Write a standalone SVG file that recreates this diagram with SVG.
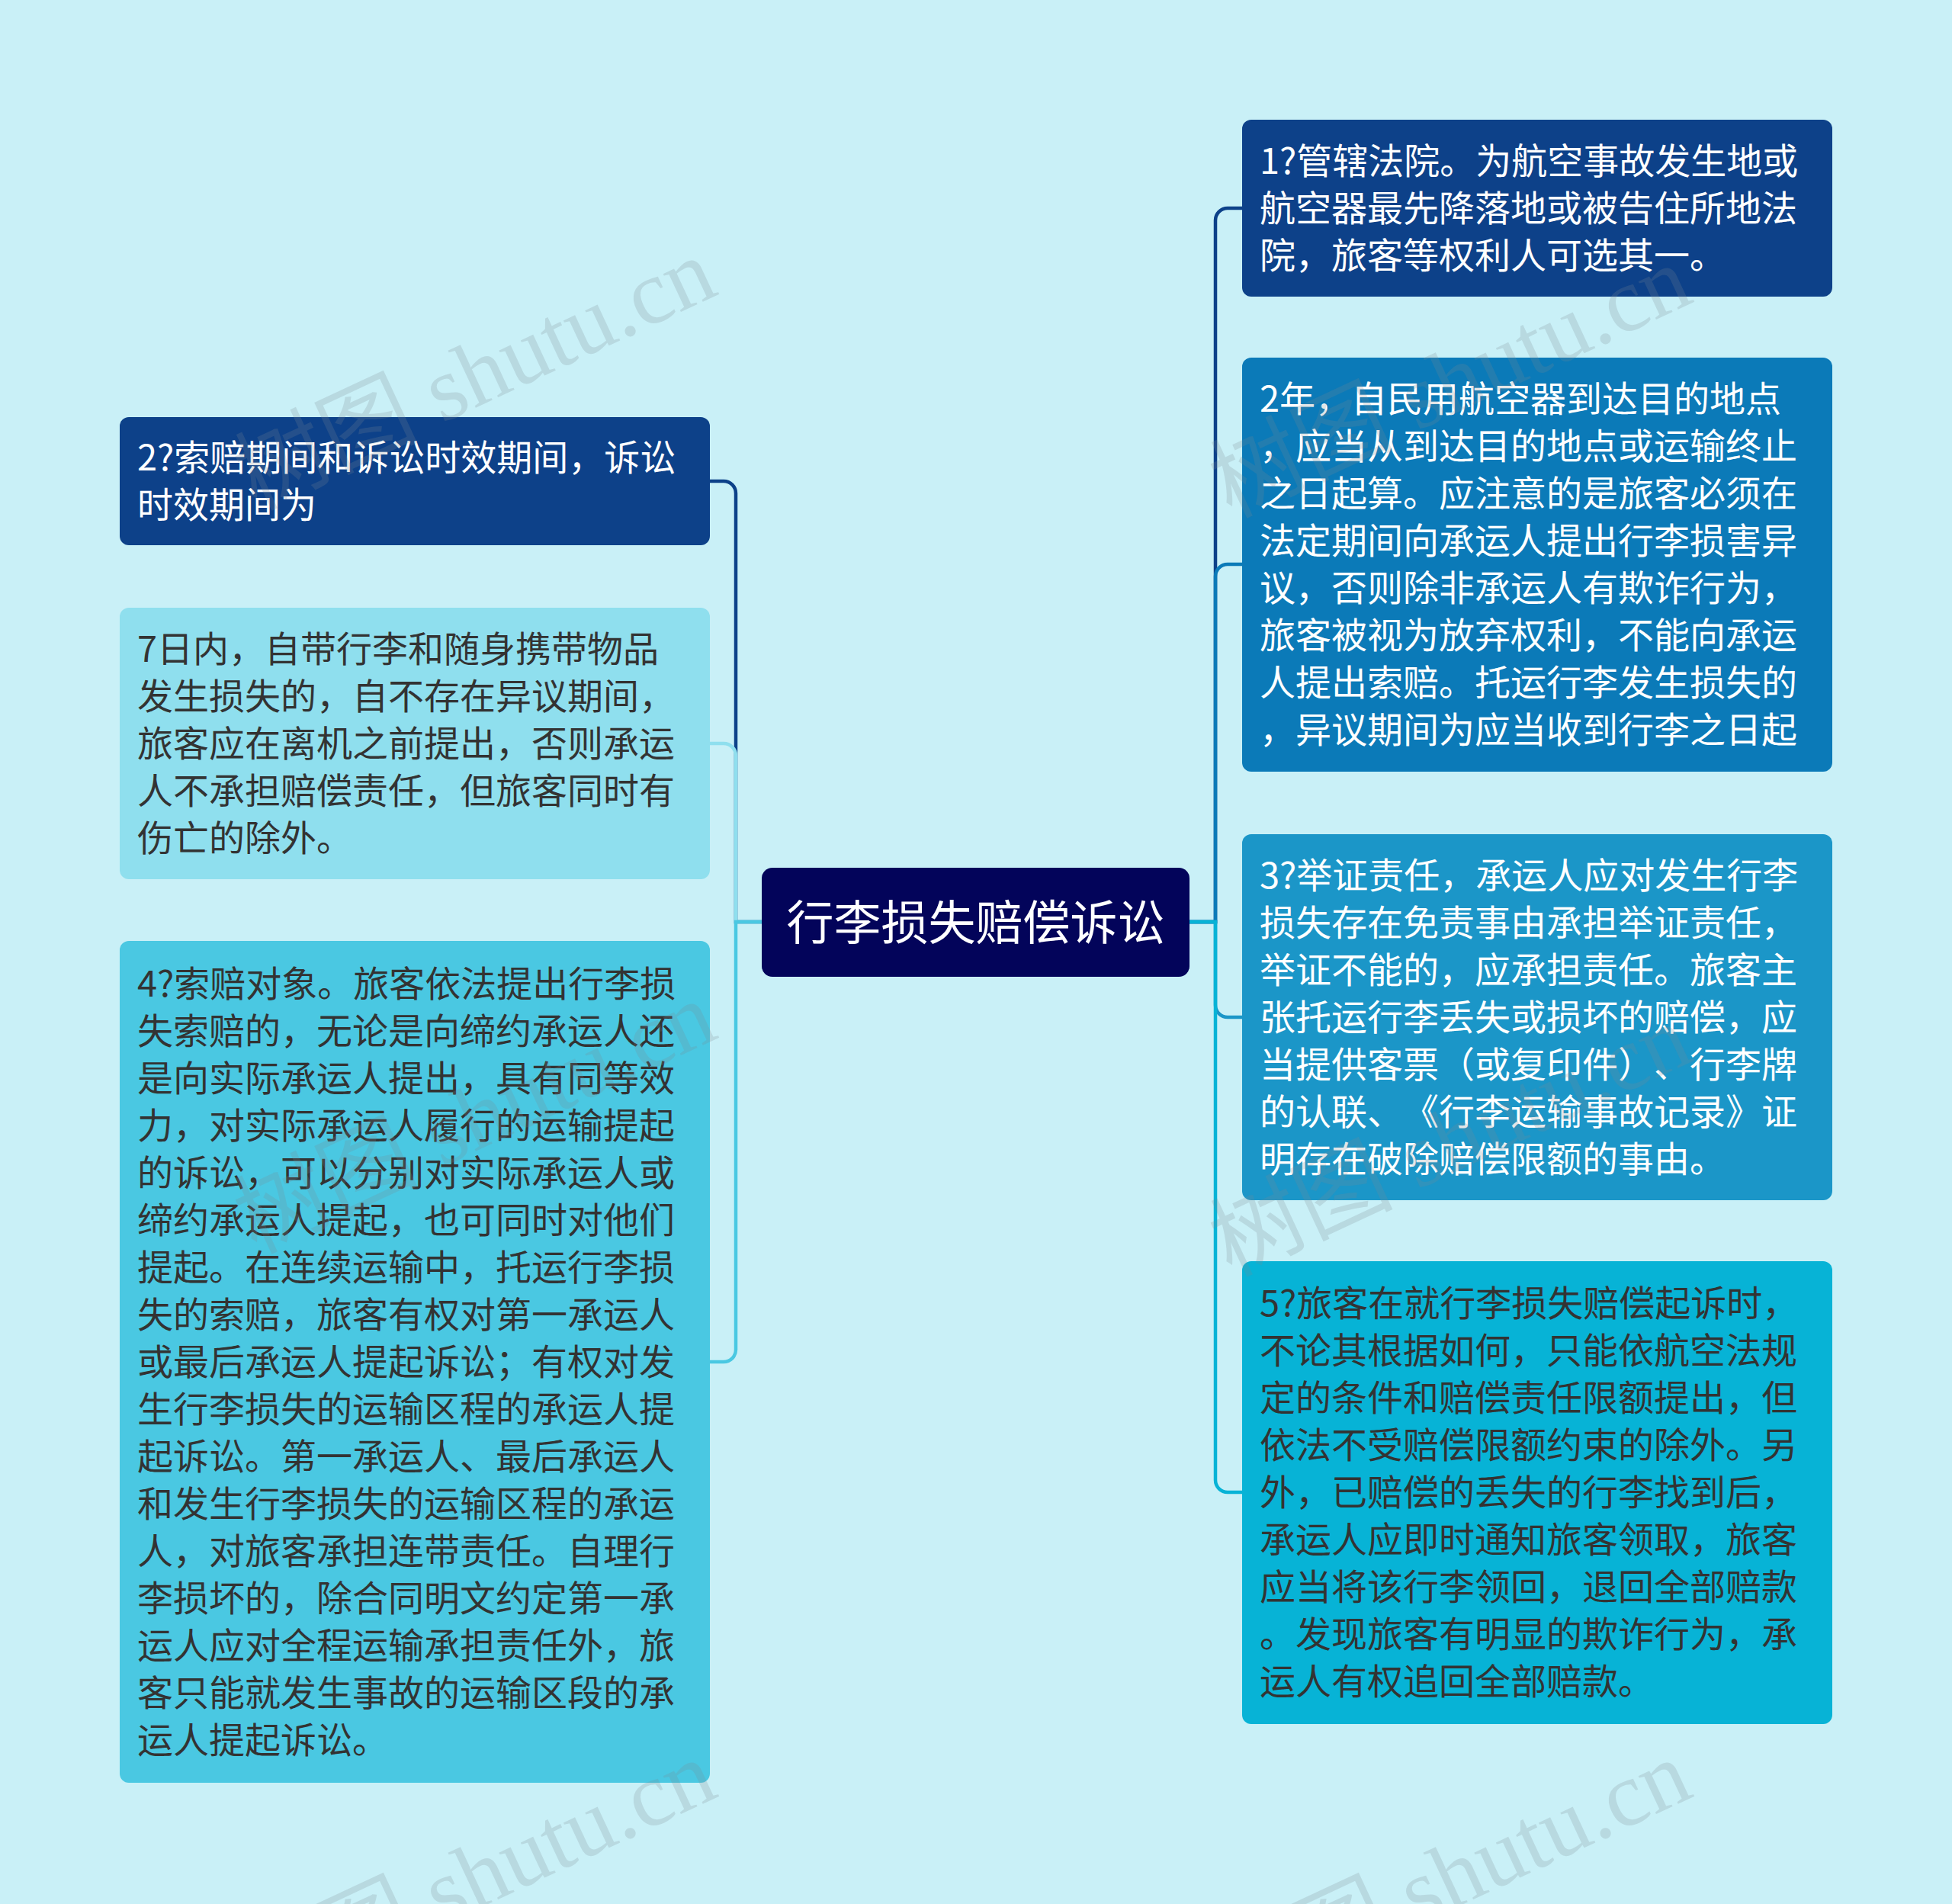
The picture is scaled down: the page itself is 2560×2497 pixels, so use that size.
<svg xmlns="http://www.w3.org/2000/svg" width="2560" height="2497" viewBox="0 0 2560 2497">
<defs>
<style>
.t{font-family:"Noto Sans CJK SC","Noto Sans",sans-serif;font-size:47px;dominant-baseline:central;text-spacing-trim:space-all}
.w{fill:#ffffff}
.d{fill:#333333}
.c{fill:none;stroke-width:4.5}
.wm{font-family:"Liberation Serif","Noto Sans CJK SC",serif;font-size:120px;fill:#7a8a90;fill-opacity:0.22}
</style>
</defs>
<rect x="0" y="0" width="2560" height="2497" fill="#C9F0F7"/>
<g id="connectors">
<path class="c" stroke="#0D4189" d="M999,1209 H965 V647 A16,16 0 0 0 949,631 H931"/>
<path class="c" stroke="#8FDFEE" d="M999,1209 H965 V991 A16,16 0 0 0 949,975 H931"/>
<path class="c" stroke="#4AC8E2" d="M999,1209 H965 V1770 A16,16 0 0 1 949,1786 H931"/>
<path class="c" stroke="#0D4189" d="M1560,1209 H1594 V289 A16,16 0 0 1 1610,273 H1629"/>
<path class="c" stroke="#0B7AB8" d="M1560,1209 H1594 V756 A16,16 0 0 1 1610,740 H1629"/>
<path class="c" stroke="#1B96C8" d="M1560,1209 H1594 V1318 A16,16 0 0 0 1610,1334 H1629"/>
<path class="c" stroke="#07B3D6" d="M1560,1209 H1594 V1941 A16,16 0 0 0 1610,1957 H1629"/>
</g>
<g id="center">
<rect x="999" y="1138" width="561" height="143" rx="14" fill="#03045A"/>
<text x="1279.5" y="1206" text-anchor="middle" font-family="&quot;Noto Sans CJK SC&quot;,sans-serif" font-size="62" fill="#ffffff" dominant-baseline="central">行李损失赔偿诉讼</text>
</g>
<g id="L1">
<rect x="157" y="547" width="774" height="168" rx="12" fill="#0D4189"/>
<text class="t w" x="180"><tspan x="180" y="596">2?索赔期间和诉讼时效期间，诉讼</tspan><tspan x="180" y="658">时效期间为</tspan></text>
</g>
<g id="L2">
<rect x="157" y="797" width="774" height="356" rx="12" fill="#8FDFEE"/>
<text class="t d" x="180"><tspan x="180" y="847">7日内，自带行李和随身携带物品</tspan><tspan x="180" y="909">发生损失的，自不存在异议期间，</tspan><tspan x="180" y="971">旅客应在离机之前提出，否则承运</tspan><tspan x="180" y="1033">人不承担赔偿责任，但旅客同时有</tspan><tspan x="180" y="1095">伤亡的除外。</tspan></text>
</g>
<g id="L3">
<rect x="157" y="1234" width="774" height="1104" rx="12" fill="#4AC8E2"/>
<text class="t d" x="180"><tspan x="180" y="1286">4?索赔对象。旅客依法提出行李损</tspan><tspan x="180" y="1348">失索赔的，无论是向缔约承运人还</tspan><tspan x="180" y="1410">是向实际承运人提出，具有同等效</tspan><tspan x="180" y="1472">力，对实际承运人履行的运输提起</tspan><tspan x="180" y="1534">的诉讼，可以分别对实际承运人或</tspan><tspan x="180" y="1596">缔约承运人提起，也可同时对他们</tspan><tspan x="180" y="1658">提起。在连续运输中，托运行李损</tspan><tspan x="180" y="1720">失的索赔，旅客有权对第一承运人</tspan><tspan x="180" y="1782">或最后承运人提起诉讼；有权对发</tspan><tspan x="180" y="1844">生行李损失的运输区程的承运人提</tspan><tspan x="180" y="1906">起诉讼。第一承运人、最后承运人</tspan><tspan x="180" y="1968">和发生行李损失的运输区程的承运</tspan><tspan x="180" y="2030">人，对旅客承担连带责任。自理行</tspan><tspan x="180" y="2092">李损坏的，除合同明文约定第一承</tspan><tspan x="180" y="2154">运人应对全程运输承担责任外，旅</tspan><tspan x="180" y="2216">客只能就发生事故的运输区段的承</tspan><tspan x="180" y="2278">运人提起诉讼。</tspan></text>
</g>
<g id="R1">
<rect x="1629" y="157" width="774" height="232" rx="12" fill="#0D4189"/>
<text class="t w" x="1652"><tspan x="1652" y="207">1?管辖法院。为航空事故发生地或</tspan><tspan x="1652" y="269">航空器最先降落地或被告住所地法</tspan><tspan x="1652" y="331">院，旅客等权利人可选其一。</tspan></text>
</g>
<g id="R2">
<rect x="1629" y="469" width="774" height="543" rx="12" fill="#0B7AB8"/>
<text class="t w" x="1652"><tspan x="1652" y="519">2年，自民用航空器到达目的地点</tspan><tspan x="1652" y="581">，应当从到达目的地点或运输终止</tspan><tspan x="1652" y="643">之日起算。应注意的是旅客必须在</tspan><tspan x="1652" y="705">法定期间向承运人提出行李损害异</tspan><tspan x="1652" y="767">议，否则除非承运人有欺诈行为，</tspan><tspan x="1652" y="829">旅客被视为放弃权利，不能向承运</tspan><tspan x="1652" y="891">人提出索赔。托运行李发生损失的</tspan><tspan x="1652" y="953">，异议期间为应当收到行李之日起</tspan></text>
</g>
<g id="R3">
<rect x="1629" y="1094" width="774" height="480" rx="12" fill="#1B96C8"/>
<text class="t w" x="1652"><tspan x="1652" y="1144">3?举证责任，承运人应对发生行李</tspan><tspan x="1652" y="1206">损失存在免责事由承担举证责任，</tspan><tspan x="1652" y="1268">举证不能的，应承担责任。旅客主</tspan><tspan x="1652" y="1330">张托运行李丢失或损坏的赔偿，应</tspan><tspan x="1652" y="1392">当提供客票（或复印件）、行李牌</tspan><tspan x="1652" y="1454">的认联、《行李运输事故记录》证</tspan><tspan x="1652" y="1516">明存在破除赔偿限额的事由。</tspan></text>
</g>
<g id="R4">
<rect x="1629" y="1654" width="774" height="607" rx="12" fill="#07B3D6"/>
<text class="t d" x="1652"><tspan x="1652" y="1705">5?旅客在就行李损失赔偿起诉时，</tspan><tspan x="1652" y="1767">不论其根据如何，只能依航空法规</tspan><tspan x="1652" y="1829">定的条件和赔偿责任限额提出，但</tspan><tspan x="1652" y="1891">依法不受赔偿限额约束的除外。另</tspan><tspan x="1652" y="1953">外，已赔偿的丢失的行李找到后，</tspan><tspan x="1652" y="2015">承运人应即时通知旅客领取，旅客</tspan><tspan x="1652" y="2077">应当将该行李领回，退回全部赔款</tspan><tspan x="1652" y="2139">。发现旅客有明显的欺诈行为，承</tspan><tspan x="1652" y="2201">运人有权追回全部赔款。</tspan></text>
</g>
<g id="watermarks">
<text class="wm" text-anchor="end" transform="translate(945,385) rotate(-25)">树图 shutu.cn</text>
<text class="wm" text-anchor="end" transform="translate(2224,395) rotate(-25)">树图 shutu.cn</text>
<text class="wm" text-anchor="end" transform="translate(945,1360) rotate(-25)">树图 shutu.cn</text>
<text class="wm" text-anchor="end" transform="translate(2224,1390) rotate(-25)">树图 shutu.cn</text>
<text class="wm" text-anchor="end" transform="translate(945,2355) rotate(-25)">树图 shutu.cn</text>
<text class="wm" text-anchor="end" transform="translate(2224,2355) rotate(-25)">树图 shutu.cn</text>
</g>
</svg>
